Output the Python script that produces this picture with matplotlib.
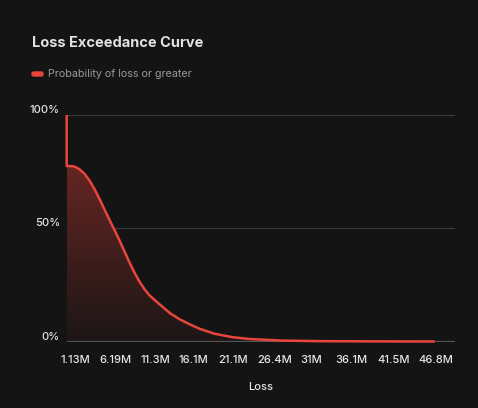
import numpy as np
import matplotlib
matplotlib.use("Agg")
import matplotlib.pyplot as plt
from matplotlib.patches import FancyBboxPatch

# Loss values (millions) and probability of loss or greater (%)
loss_m = [0.0, 0.0, 0.79, 1.13, 1.64, 2.27, 2.91, 3.54, 4.18, 4.81, 5.44,
          6.08, 6.71, 7.35, 7.98, 8.62, 9.25, 9.89, 10.52, 11.79, 13.06,
          14.33, 15.6, 16.87, 18.77, 21.05, 23.21, 27.4, 32.1, 39.7, 46.7]
prob_pct = [100.0, 77.5, 77.4, 77.0, 76.0, 74.0, 71.0, 67.2, 62.8, 58.2,
            53.6, 49.1, 44.5, 39.6, 34.8, 30.3, 26.3, 23.0, 20.3, 16.4,
            12.6, 9.8, 7.6, 5.6, 3.4, 1.9, 1.1, 0.4, 0.15, 0.05, 0.0]

tick_vals = [1.13, 6.19, 11.3, 16.1, 21.1, 26.4, 31.0, 36.1, 41.5, 46.8]
tick_labels = ["1.13M", "6.19M", "11.3M", "16.1M", "21.1M", "26.4M",
               "31M", "36.1M", "41.5M", "46.8M"]
y_ticks = [0, 50, 100]
y_labels = ["0%", "50%", "100%"]

bg = "#141414"
red = "#e8453c"

plt.rcParams["font.family"] = ["Inter", "DejaVu Sans"]

fig = plt.figure(figsize=(4.78, 4.08), dpi=100, facecolor=bg)
ax = fig.add_axes([66.7 / 478, 1 - 341.5 / 408, (455 - 66.7) / 478, (341.5 - 115) / 408])
ax.set_facecolor(bg)

x = np.array(loss_m)
y = np.array(prob_pct)

# gradient fill under the curve
grad = np.linspace(0, 1, 256).reshape(-1, 1)
cmap = matplotlib.colors.LinearSegmentedColormap.from_list(
    "g", ["#1c1616", "#7a2a26"])
img = ax.imshow(grad, aspect="auto", cmap=cmap, origin="lower",
                extent=[0, 46.7, 0, 100], zorder=1)
poly = ax.fill_between(x, y, 0, color="none", lw=0)
clip = matplotlib.path.Path(np.vstack(poly.get_paths()[0].vertices))
img.set_clip_path(clip, transform=ax.transData)

ax.plot(x, y, color=red, lw=1.8, zorder=3, solid_joinstyle="round",
        solid_capstyle="butt", clip_on=False)

ax.set_xlim(0, 49.25)
ax.set_ylim(0, 100)

for v in [50, 100]:
    ax.axhline(v, color="#3a3a3a", lw=0.9, zorder=0)
ax.axhline(0, color="#555555", lw=1.6, zorder=2)

for s in ax.spines.values():
    s.set_visible(False)

ax.set_xticks(tick_vals)
ax.set_xticklabels(tick_labels, color="#e6e6e6", fontsize=8, fontweight="medium")
ax.set_yticks(y_ticks)
ax.set_yticklabels(y_labels, color="#e6e6e6", fontsize=8, fontweight="medium")
for lab in ax.get_yticklabels():
    lab.set_va("bottom")
ax.tick_params(axis="x", length=0, pad=10)
ax.tick_params(axis="y", length=0, pad=5)

ax.set_xlabel("Loss", color="#e6e6e6", fontsize=8, fontweight="medium", labelpad=12)

fig.text(32 / 478, 1 - 43 / 408, "Loss Exceedance Curve", color="#e2e2e2",
         fontsize=10.5, fontweight="bold", va="center", ha="left")

# legend
fig.patches.append(FancyBboxPatch((32 / 478, 1 - 76 / 408), 11 / 478, 4 / 408,
                                  boxstyle="round,pad=0,rounding_size=0.004",
                                  transform=fig.transFigure, color=red))
fig.text(48 / 478, 1 - 74 / 408, "Probability of loss or greater",
         color="#9a9a9a", fontsize=7.7, va="center", ha="left")

fig.savefig("out.png", dpi=100, facecolor=bg)
